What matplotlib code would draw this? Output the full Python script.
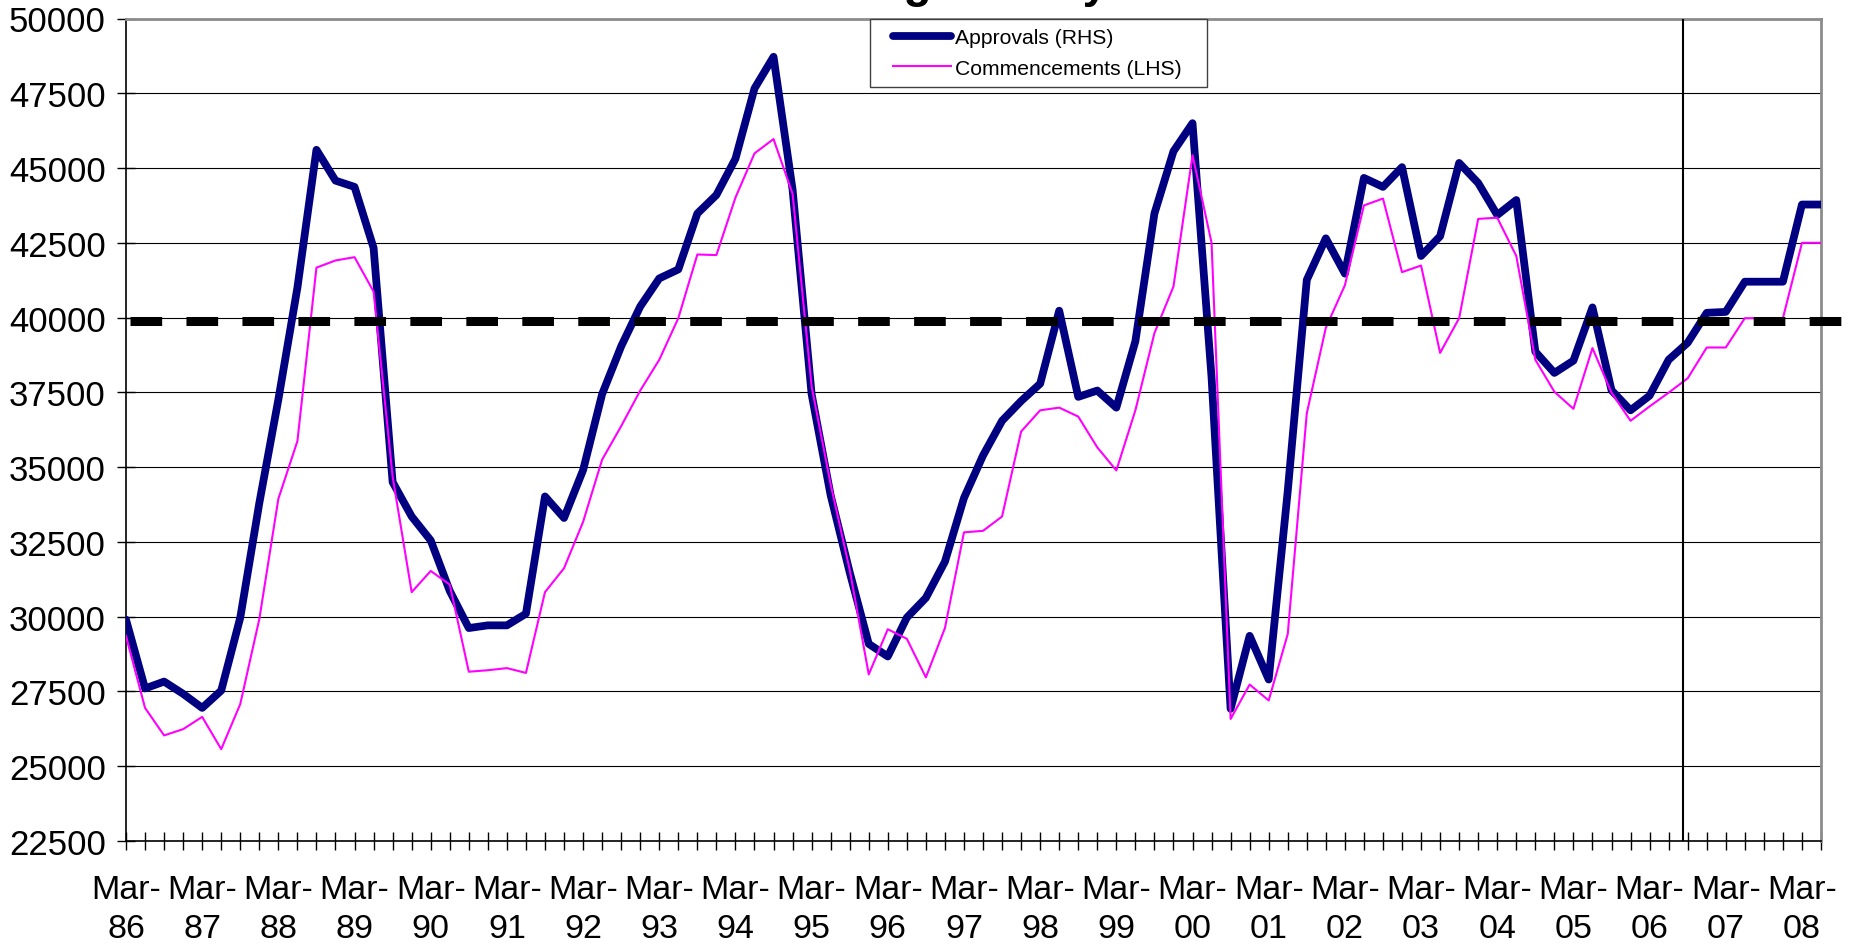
import matplotlib
matplotlib.use("Agg")
import matplotlib.pyplot as plt
import numpy as np
from matplotlib.patches import Rectangle

# quarterly, Mar-86 .. Jun-08
approvals = [
    29900, 27600, 27830, 27420, 26950, 27530, 29970, 33800, 37260, 41000,
    45610, 44580, 44370, 42330, 34500, 33350, 32550, 30860, 29620, 29710,
    29710, 30100, 34020, 33300, 34900, 37440, 39040, 40370, 41310, 41610,
    43480, 44100, 45310, 47660, 48720, 44280, 37440, 34060, 31480, 29090,
    28670, 29970, 30630, 31840, 33970, 35390, 36550, 37210, 37790, 40230,
    37350, 37560, 36990, 39210, 43480, 45560, 46500, 38000, 26920, 29360,
    27900, 34200, 41260, 42650, 41470, 44670, 44370, 45030, 42060, 42720,
    45170, 44500, 43430, 43930, 38860, 38150, 38560, 40340, 37570, 36900,
    37390, 38590, 39160, 40160, 40190, 41200, 41200, 41200, 43780, 43780,
]
commencements = [
    29350, 26950, 26030, 26240, 26650, 25570, 27080, 29920, 33940, 35870,
    41670, 41910, 42020, 40870, 34680, 30820, 31530, 31070, 28160, 28210,
    28280, 28120, 30820, 31620, 33170, 35250, 36370, 37560, 38590, 39980,
    42110, 42090, 44010, 45490, 45970, 44140, 37700, 34420, 31570, 28070,
    29580, 29260, 27970, 29620, 32820, 32870, 33350, 36190, 36900, 36990,
    36690, 35660, 34890, 36900, 39480, 41040, 45430, 42500, 26580, 27730,
    27200, 29420, 36800, 39660, 41080, 43750, 43980, 41520, 41740, 38820,
    39980, 43300, 43340, 42060, 38590, 37520, 36950, 38980, 37490, 36550,
    37030, 37490, 37970, 39000, 39000, 39980, 39980, 39980, 42500, 42500,
]
years = ["86", "87", "88", "89", "90", "91", "92", "93", "94", "95", "96", "97",
         "98", "99", "00", "01", "02", "03", "04", "05", "06", "07", "08"]

long_run_avg = 39880     # dashed reference level
forecast_start = 81.75   # vertical divider (quarter index)

plt.rcParams["font.family"] = ["Liberation Sans", "DejaVu Sans"]
plt.rcParams["lines.scale_dashes"] = False

W, H = 1856, 945
fig = plt.figure(figsize=(W / 100, H / 100), dpi=100)
ax = fig.add_axes([126 / W, 1 - 842 / H, (1821 - 126) / W, (842 - 19.5) / H])

x = np.arange(len(approvals))
ax.plot(x, approvals, color="#000080", lw=5.6, solid_joinstyle="round",
        solid_capstyle="round", label="Approvals (RHS)", zorder=3)
ax.plot(x, commencements, color="#FF00FF", lw=1.5,
        label="Commencements (LHS)", zorder=4)

ax.axvline(forecast_start, color="black", lw=1.5, zorder=5)
ax.plot([0.2, 90.2], [long_run_avg, long_run_avg], color="black", lw=6.5,
        dashes=(22.8, 17.5), dash_capstyle="butt", clip_on=False, zorder=5)

ax.set_xlim(0, len(approvals) - 1)
ax.set_ylim(22500, 50000)
ax.set_yticks(np.arange(22500, 50001, 2500))
ax.set_xticks(x)
xlabels = [""] * len(x)
for i, yr in enumerate(years):
    xlabels[i * 4] = "Mar-\n" + yr
ax.set_xticklabels(xlabels, linespacing=1.35)

ax.grid(axis="y", color="black", lw=0.8)
ax.set_axisbelow(True)
for side in ["left", "bottom"]:
    ax.spines[side].set_color("black")
    ax.spines[side].set_linewidth(1.2)
for side in ["top", "right"]:
    ax.spines[side].set_color("#8c8c8c")
    ax.spines[side].set_linewidth(2)

ax.tick_params(axis="y", direction="inout", length=13, width=1, labelsize=25, pad=8)
ax.tick_params(axis="x", direction="inout", length=13, width=1, labelsize=24.5, pad=17)

fig.text(0.5, 1 + 2.7 / H, "Housing Activity", ha="center", va="baseline",
         fontsize=33, fontweight="bold")

leg = ax.legend(loc="upper left", bbox_to_anchor=(0.447, 1.0), frameon=False,
                fontsize=15.2, handlelength=2.75, handletextpad=0.2,
                borderpad=0.45, labelspacing=0.55, borderaxespad=0)
leg.set_zorder(7)

# legend frame, a bit wider than matplotlib's symmetric padding
fig.canvas.draw()
bb = leg.get_window_extent()
inv = fig.transFigure.inverted()
(x0, y0), (x1, y1) = inv.transform([(bb.x0 - 14, bb.y0), (bb.x1 + 15, bb.y1)])
ax.add_patch(Rectangle((x0, y0), x1 - x0, y1 - y0, transform=fig.transFigure,
                       facecolor="white", edgecolor="#404040", lw=1,
                       clip_on=False, zorder=6))

fig.savefig("out.png", dpi=100)
